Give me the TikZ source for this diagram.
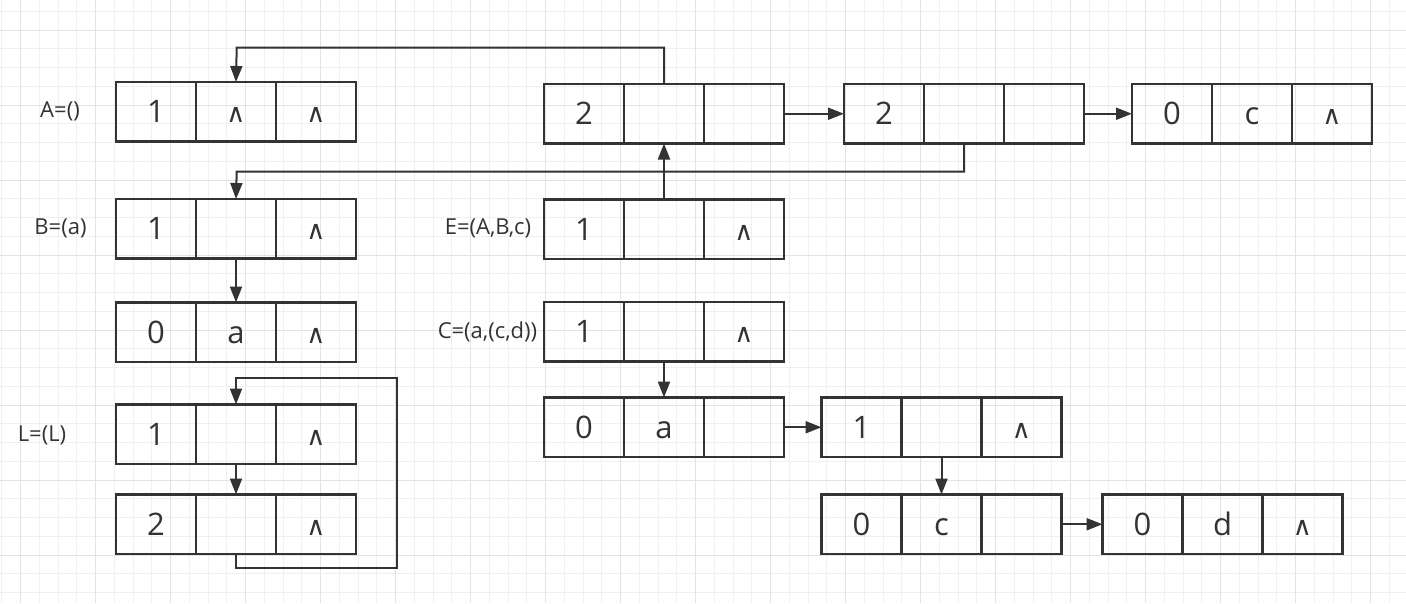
\documentclass[tikz,border=0pt]{standalone}
\usepackage{fontspec}
\setmainfont{Open Sans}
\newfontfamily\symfont{DejaVu Sans}
\usetikzlibrary{arrows.meta}
\definecolor{ink}{HTML}{333333}
\definecolor{gmin}{HTML}{F0F0F0}
\definecolor{gmaj}{HTML}{E3E3E3}
\newcommand\nilsym{{\symfont\fontsize{26}{26}\selectfont ∧}}
\newcommand\record[6]{%
  \node[cell, anchor=north west] (#1a) at (#2,#3) {#4};
  \node[cell, anchor=north west] (#1b) at (#1a.north east) {#5};
  \node[cell, anchor=north west] (#1c) at (#1b.north east) {#6};
}
\tikzset{
  cell/.style={draw=ink, line width=2.4pt, minimum width=80pt, minimum height=59.5pt,
    inner sep=0pt, outer sep=0pt, text height=22pt, text depth=0pt,
    font=\fontsize{31}{31}\selectfont, text=ink},
  lbl/.style={font=\fontsize{22}{22}\selectfont, text=ink, inner sep=0pt},
  arr/.style={draw=ink, line width=2pt, -{Triangle[length=16pt,width=12pt]}},
  gminor/.style={draw=gmin, line width=1pt},
  gmajor/.style={draw=gmaj, line width=1pt}
}
\begin{document}
\begin{tikzpicture}[x=1pt, y=-1pt]
\useasboundingbox (0,0) rectangle (1406,603);
\fill[white] (0,0) rectangle (1406,603);
% grid
\foreach \i in {0,...,75} {\draw[gminor] ({1.95+18.75*\i},0) -- ++(0,603);}
\foreach \i in {0,...,32} {\draw[gminor] (0,{11.25+18.75*\i}) -- ++(1406,0);}
\foreach \i in {0,...,18} {\draw[gmajor] ({20.7+75*\i},0) -- ++(0,603);}
\foreach \i in {0,...,7} {\draw[gmajor] (0,{30+75*\i}) -- ++(1406,0);}
% left column
\record{A}{116}{82}{1}{\nilsym}{\nilsym}
\record{B}{116}{199}{1}{}{\nilsym}
\record{Ba}{116}{302.5}{0}{a}{\nilsym}
\record{La}{116}{404.5}{1}{}{\nilsym}
\record{Lb}{116}{494.5}{2}{}{\nilsym}
% middle column
\record{T}{544}{84}{2}{}{}
\record{E}{544}{199.3}{1}{}{\nilsym}
\record{C}{544}{302}{1}{}{\nilsym}
\record{Ca}{544}{397.5}{0}{a}{}
% right part
\record{U}{844}{84}{2}{}{}
\record{W}{1132}{84}{0}{c}{\nilsym}
\record{D}{821.5}{397.5}{1}{}{\nilsym}
\record{Dc}{821.5}{494.5}{0}{c}{}
\record{Dd}{1102.5}{494.5}{0}{d}{\nilsym}
% labels
\node[lbl] (lA) at (60,111) {A=()};
\node[lbl] (lB) at (60.5,228) {B=(a)};
\node[lbl] (lL) at (42,435) {L=(L)};
\node[lbl] (lE) at (488,228) {E=(A,B,c)};
\node[lbl] (lC) at (487.5,331.5) {C=(a,(c,d))};
% helper coordinates
\coordinate (k1) at (236.7,47.7);
\coordinate (k2) at (236.7,171.7);
\coordinate (k3) at (396.7,568.3);
\coordinate (k4) at (396.7,377.7);
% connectors
\draw[arr] (Tb.north) |- (k1) -- (Ab.north);
\draw[arr] (Eb.north) -- (Tb.south);
\draw[arr] (Ub.south) |- (k2) -- (Bb.north);
\draw[arr] (Tc.east) -- (Ua.west);
\draw[arr] (Uc.east) -- (Wa.west);
\draw[arr] (Bb.south) -- (Bab.north);
\draw[arr] (Lab.south) -- (Lbb.north);
\draw[arr] (Lbb.south) |- (k3) -- (k4) -| (Lab.north);
\draw[arr] (Cb.south) -- (Cab.north);
\draw[arr] (Cac.east) -- (Da.west);
\draw[arr] (Db.south) -- (Dcb.north);
\draw[arr] (Dcc.east) -- (Dda.west);
\end{tikzpicture}
\end{document}
